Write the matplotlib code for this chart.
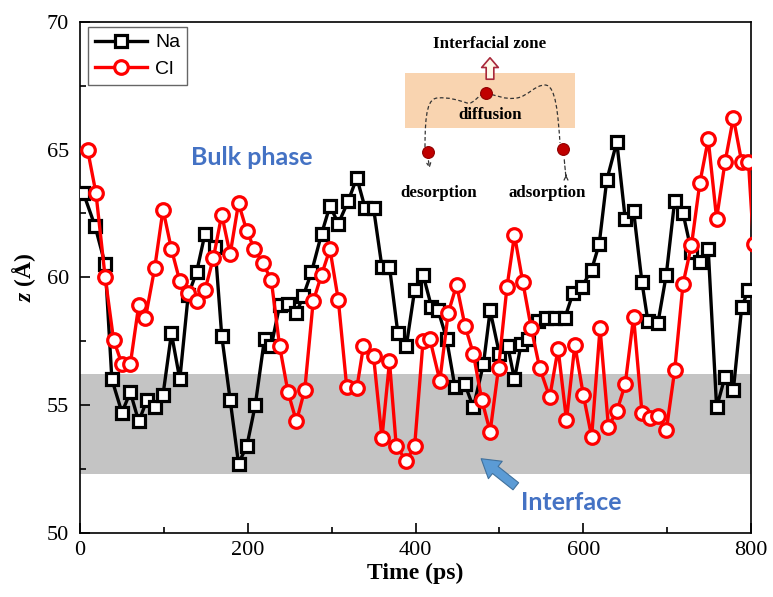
import numpy as np
import matplotlib
matplotlib.use('Agg')
import matplotlib.pyplot as plt
from matplotlib.patches import Rectangle, FancyArrowPatch, PathPatch
from matplotlib.path import Path
from matplotlib.lines import Line2D

plt.rcParams['font.family'] = 'Liberation Serif'
plt.rcParams['mathtext.fontset'] = 'custom'
plt.rcParams['mathtext.it'] = 'Liberation Serif:italic:bold'
plt.rcParams['mathtext.rm'] = 'Liberation Serif:bold'

# Na trajectory (time in ps, z in Angstrom)
na_t = [4, 18, 30, 38, 50, 60, 70, 80, 89, 99,
        109, 119, 129, 139, 149, 161, 169, 179, 189, 199,
        209, 220, 228, 238, 248, 258, 266, 276, 288, 298,
        308, 320, 330, 340, 350, 360, 369, 379, 389, 399,
        409, 419, 427, 437, 447, 459, 469, 481, 489, 500,
        510, 518, 526, 534, 546, 556, 566, 578, 588, 598,
        610, 619, 628, 640, 650, 660, 670, 677, 689, 699,
        709, 719, 729, 739, 749, 759, 769, 779, 789, 797]
na_z = [63.3, 62.0, 60.5, 56.0, 54.7, 55.5, 54.35, 55.2, 54.9, 55.4,
        57.8, 56.0, 59.3, 60.2, 61.7, 61.2, 57.7, 55.2, 52.7, 53.4,
        55.0, 57.6, 57.3, 58.9, 58.95, 58.6, 59.25, 60.2, 61.7, 62.8,
        62.1, 63.0, 63.9, 62.7, 62.7, 60.4, 60.4, 57.8, 57.3, 59.5,
        60.1, 58.85, 58.7, 57.6, 55.7, 55.8, 54.9, 56.6, 58.7, 57.0,
        57.3, 56.0, 57.4, 57.6, 58.3, 58.4, 58.4, 58.4, 59.4, 59.6,
        60.3, 61.3, 63.8, 65.3, 62.3, 62.6, 59.8, 58.3, 58.2, 60.1,
        63.0, 62.5, 61.0, 60.6, 61.1, 54.9, 56.1, 55.6, 58.85, 59.5]

# Cl trajectory
cl_t = [9, 19, 30, 40, 50, 60, 70, 78, 89, 99,
        109, 119, 129, 139, 149, 159, 169, 179, 189, 199,
        208, 218, 228, 238, 248, 258, 268, 278, 288, 298,
        308, 318, 330, 338, 350, 360, 369, 377, 389, 399,
        409, 417, 429, 439, 449, 459, 469, 479, 489, 499,
        509, 518, 528, 538, 548, 560, 570, 580, 590, 600,
        610, 620, 630, 640, 650, 660, 670, 679, 689, 699,
        709, 719, 729, 739, 749, 759, 769, 779, 789, 797, 803]
cl_z = [65.0, 63.3, 60.0, 57.55, 56.6, 56.6, 58.9, 58.4, 60.35, 62.65,
        61.1, 59.85, 59.4, 59.05, 59.5, 60.75, 62.45, 60.9, 62.9, 61.8,
        61.1, 60.55, 59.9, 57.3, 55.5, 54.35, 55.6, 59.05, 60.1, 61.1,
        59.1, 55.7, 55.65, 57.3, 56.9, 53.7, 56.7, 53.4, 52.8, 53.4,
        57.5, 57.6, 55.95, 58.6, 59.7, 58.1, 57.0, 55.2, 53.95, 56.45,
        59.6, 61.65, 59.8, 58.0, 56.45, 55.3, 57.2, 54.4, 57.35, 55.4,
        53.75, 58.0, 54.15, 54.75, 55.8, 58.45, 54.7, 54.5, 54.55, 54.0,
        56.35, 59.75, 61.25, 63.7, 65.4, 62.3, 64.5, 66.25, 64.5, 64.5, 61.3]

interface_lo, interface_hi = 52.3, 56.2

W, H = 773, 597
fig = plt.figure(figsize=(W / 100, H / 100), dpi=100)
ax = fig.add_axes([80 / W, 1 - 532.5 / H, 671 / W, 510.5 / H])


def px(x, y):
    # pixel position in the picture -> figure fraction
    return (x / W, 1 - y / H)


ax.axhspan(interface_lo, interface_hi, color='#c4c4c4', lw=0, zorder=0)
ax.plot(na_t, na_z, '-s', color='black', lw=2.4, ms=8.6, mfc='white',
        mec='black', mew=2.3, label='Na', zorder=3)
ax.plot(cl_t, cl_z, '-o', color='red', lw=2.4, ms=9.8, mfc='white',
        mec='red', mew=2.3, label='Cl', zorder=4)

ax.set_xlim(0, 800)
ax.set_ylim(50, 70)
ax.set_xticks(range(0, 801, 200))
ax.set_xticks(range(100, 800, 200), minor=True)
ax.set_yticks(range(50, 71, 5))
ax.set_yticks(np.arange(52.5, 70, 5), minor=True)
ax.tick_params(which='both', direction='in', top=False, right=False,
               labelsize=16, width=1.2)
ax.tick_params(which='major', length=7)
ax.tick_params(which='minor', length=4)
ax.tick_params(axis='x', pad=6)
ax.tick_params(axis='y', pad=8)
for s in ax.spines.values():
    s.set_linewidth(1.2)

ax.set_xlabel('Time (ps)', fontsize=17, fontweight='bold', labelpad=2)
ax.set_ylabel('$z$ (Å)', fontsize=17, fontweight='bold', labelpad=6)

leg = ax.legend(loc='upper left', bbox_to_anchor=(8 / 671, 1 - 5 / 510.5),
                borderaxespad=0, prop={'family': 'Liberation Sans', 'size': 14},
                fancybox=False, edgecolor='#666666', framealpha=1,
                handlelength=2.7, handletextpad=0.4, borderpad=0.35,
                labelspacing=0.45)
leg.get_frame().set_linewidth(1.0)

# blue annotations
blue = '#4472C4'
fig.text(*px(252, 157), 'Bulk phase', color=blue, fontsize=18,
         fontweight='bold', family='Lato', ha='center', va='center')
fig.text(*px(571, 503), 'Interface', color=blue, fontsize=18,
         fontweight='bold', family='Lato', ha='center', va='center')
fig.add_artist(FancyArrowPatch(px(518, 488), px(479, 457), transform=fig.transFigure,
                               arrowstyle='simple,head_width=1.6,head_length=1.3,tail_width=0.65',
                               mutation_scale=10, fc='#5B9BD5', ec='#41719C', lw=0.8))

# inset sketch of the interfacial zone
fig.add_artist(Rectangle(px(405, 128), 170 / W, 55 / H, transform=fig.transFigure,
                         fc='#F9D4B0', ec='none'))
fig.add_artist(FancyArrowPatch(px(490, 82), px(490, 55), transform=fig.transFigure,
                               arrowstyle='simple,head_width=1.2,head_length=0.7,tail_width=0.55',
                               mutation_scale=10, fc='#FFF8E8', ec='#A8283A', lw=1.2))
serif_b = dict(family='Liberation Serif', fontweight='bold', fontsize=12.2,
               ha='center', va='center')
fig.text(*px(490, 44), 'Interfacial zone', **serif_b)
fig.text(*px(490, 115), 'diffusion', **serif_b)
fig.text(*px(439, 193), 'desorption', **serif_b)
fig.text(*px(547, 193), 'adsorption', **serif_b)

pts = [(425, 147), (425, 112), (428, 98), (438, 98),
       (448, 97), (458, 100), (467, 103),
       (474, 105), (478, 94), (486, 93),
       (495, 95), (505, 100), (517, 98),
       (528, 96), (535, 85), (545, 85),
       (556, 85), (558, 115), (560, 143)]
codes = [Path.MOVETO] + [Path.CURVE4] * (len(pts) - 1)
path = Path([px(x, y) for x, y in pts], codes)
fig.add_artist(PathPatch(path, transform=fig.transFigure, fill=False,
                         ls=(0, (3, 2)), lw=0.9, ec='#333333'))
fig.add_artist(FancyArrowPatch(px(428, 158), px(430, 171), transform=fig.transFigure,
                               arrowstyle='->', ls=(0, (3, 2)), lw=0.9,
                               mutation_scale=7, color='#333333'))
fig.add_artist(FancyArrowPatch(px(564, 157), px(566, 178), transform=fig.transFigure,
                               arrowstyle='-', ls=(0, (3, 2)), lw=0.9, color='#333333'))
fig.add_artist(FancyArrowPatch(px(566, 178), px(566, 172), transform=fig.transFigure,
                               arrowstyle='->', lw=0.9, mutation_scale=7, color='#333333'))
for x, y in [(486, 93), (428, 152), (563, 149)]:
    fig.add_artist(Line2D([px(x, y)[0]], [px(x, y)[1]], transform=fig.transFigure,
                          marker='o', ms=8.5, mfc='#C00000', mec='#900000', mew=0.8))

fig.savefig('out.png', dpi=100)
